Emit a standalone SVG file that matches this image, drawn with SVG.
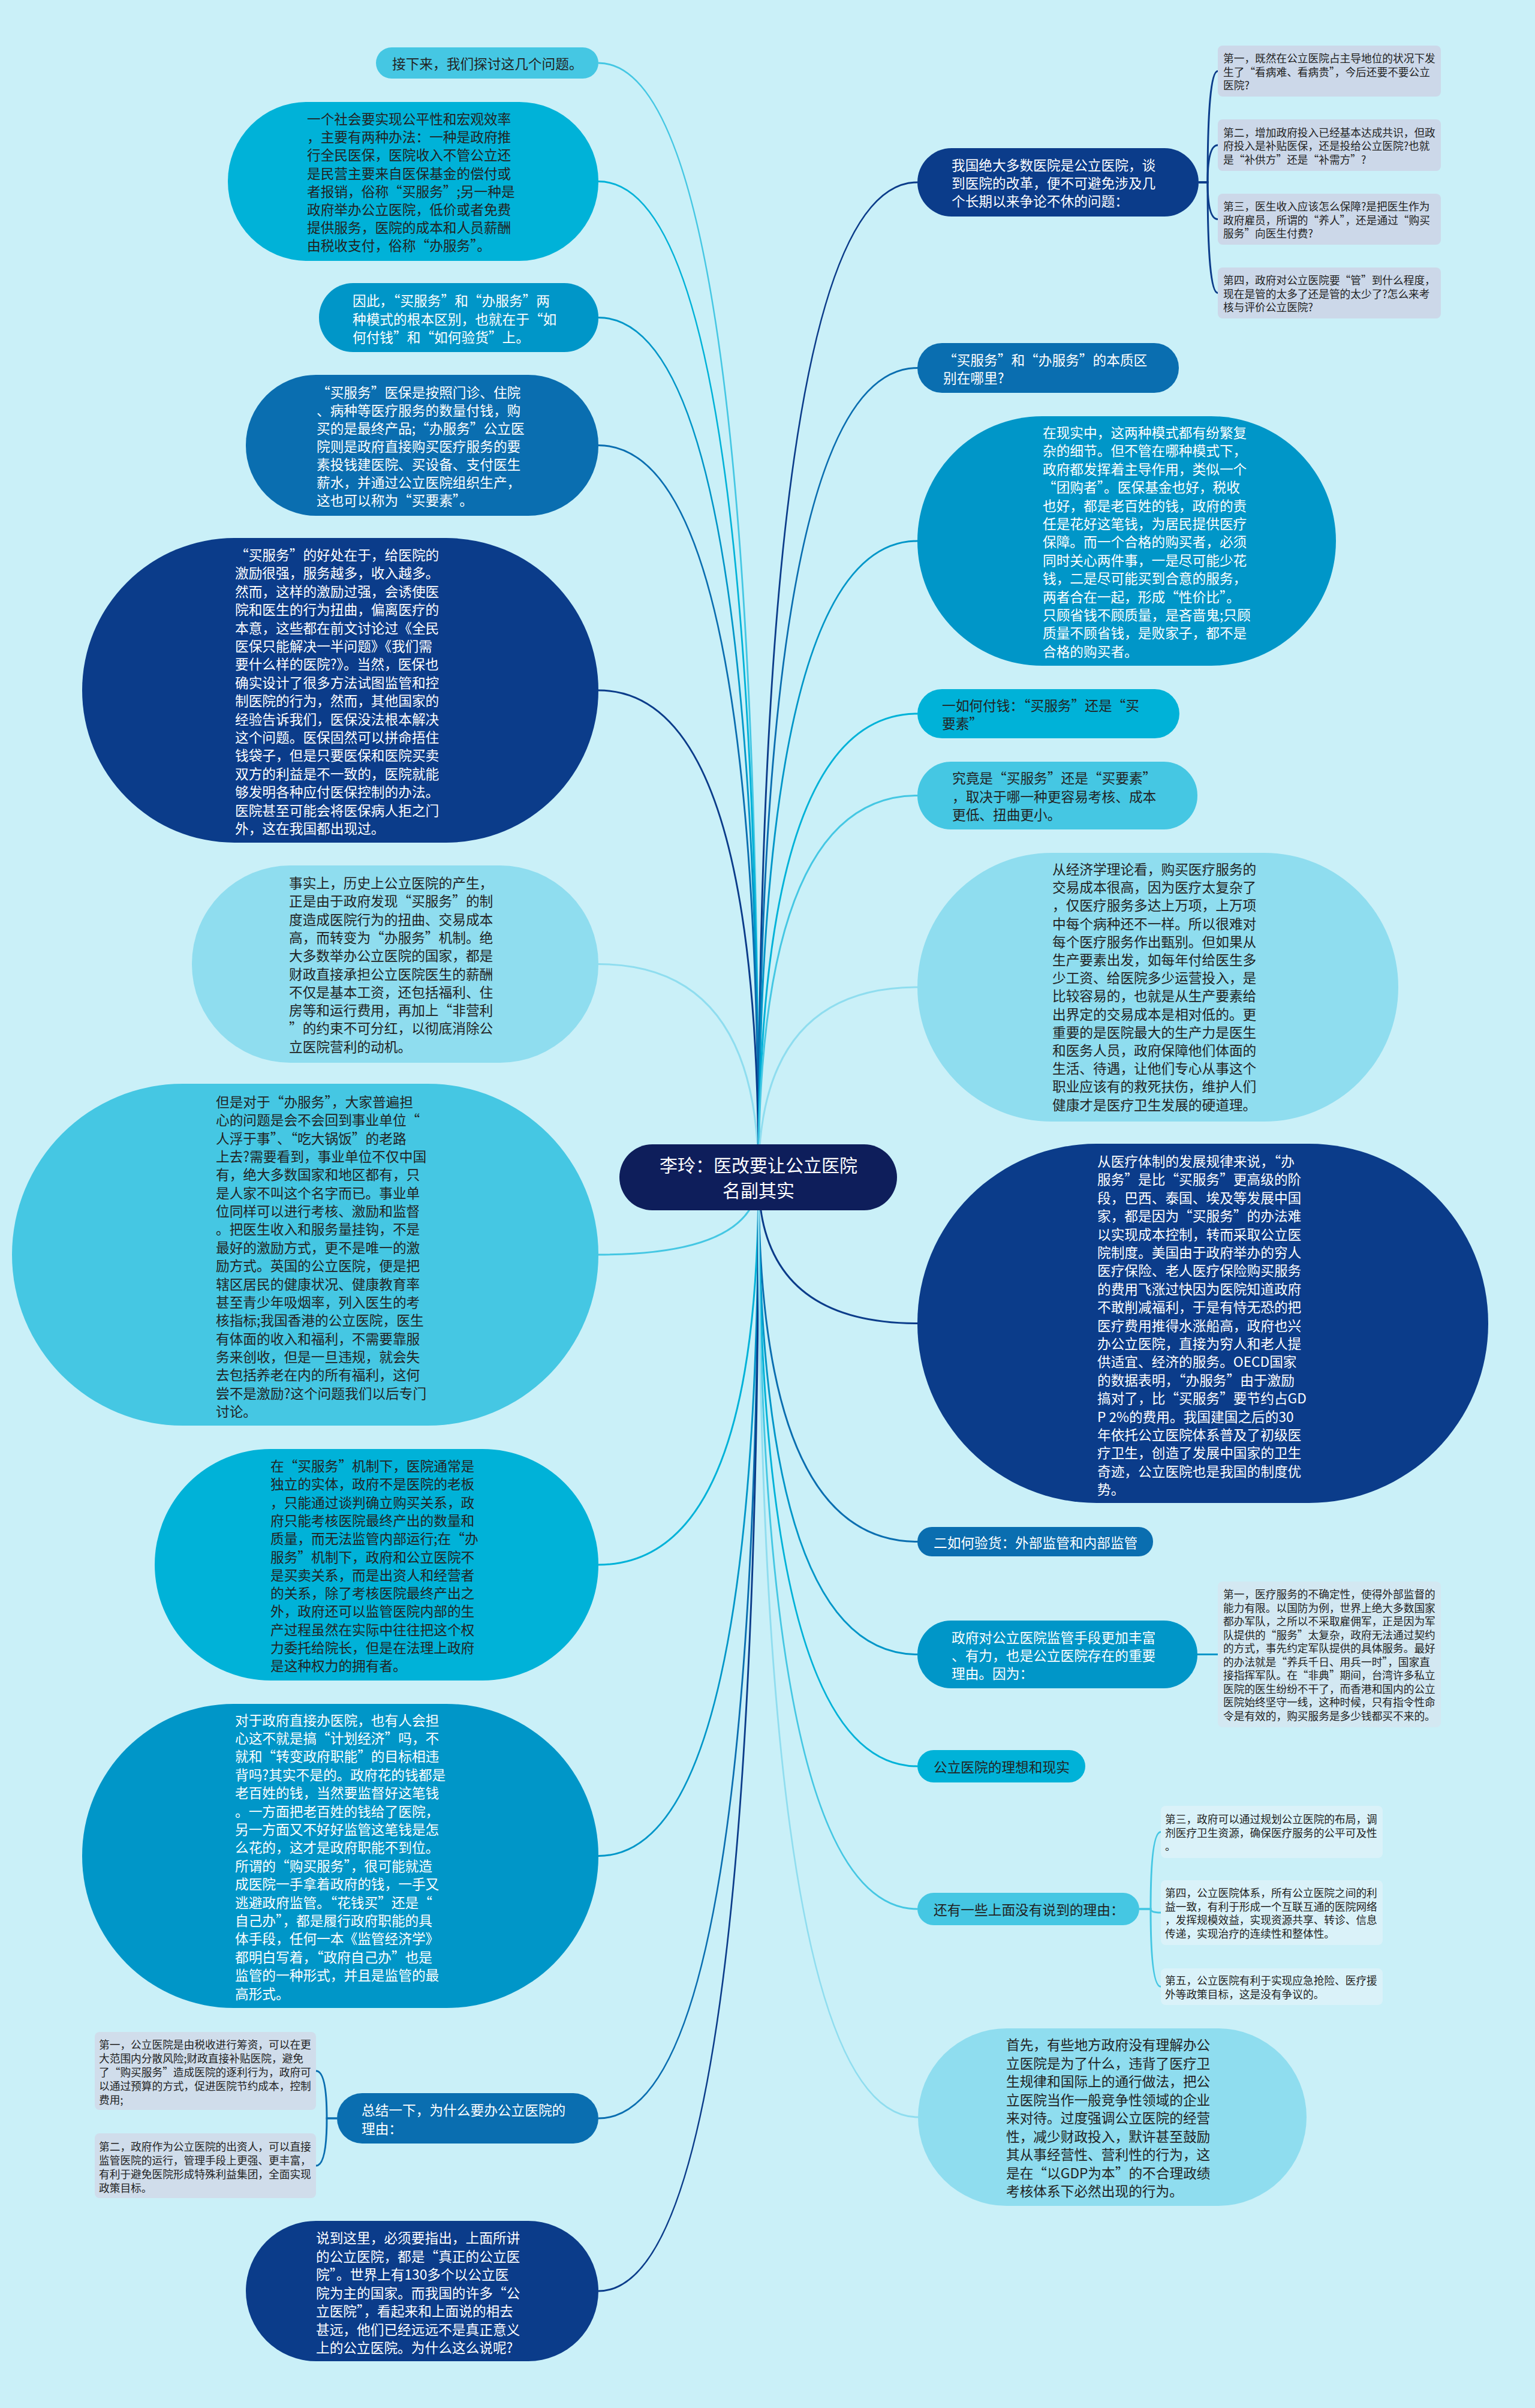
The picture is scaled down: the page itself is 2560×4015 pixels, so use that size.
<svg xmlns="http://www.w3.org/2000/svg" width="2560" height="4015" viewBox="0 0 2560 4015">
<style>
.t{font-family:'Noto Sans CJK SC','Noto Sans CJK JP','Noto Sans',sans-serif;font-size:22.7px;dominant-baseline:central}
.s{font-size:17.7px}
.w{fill:#ffffff}
.d{fill:#222222}
.navy{fill:#0E1E5B}
.dark{fill:#0B3C8A}
.blue{fill:#0A6EB0}
.mid{fill:#0096C8}
.cyan{fill:#00B2D8}
.light{fill:#45C7E3}
.pale{fill:#8FDDEF}
.lf1{fill:#CCD8E9}
.lf2{fill:#D0DDEB}
.lf3{fill:#D3E8F2}
.lf4{fill:#DAF2F9}
.c{fill:none;stroke-width:3}
.cd{stroke:#0B3C8A}.cb{stroke:#0A6EB0}.cm{stroke:#0096C8}.cc{stroke:#00B2D8}.cl{stroke:#45C7E3}.cp{stroke:#8FDDEF}
</style>
<rect x="0" y="0" width="2560" height="4015" fill="#CAF0F8"/>
<g id="connectors">
<path class="c cl" d="M1265 1963 Q1265 105 998 105"/>
<path class="c cc" d="M1265 1963 Q1265 302.5 998 302.5"/>
<path class="c cm" d="M1265 1963 Q1265 529.5 998 529.5"/>
<path class="c cb" d="M1265 1963 Q1265 742.5 998 742.5"/>
<path class="c cd" d="M1265 1963 Q1265 1151 998 1151"/>
<path class="c cp" d="M1265 1963 Q1265 1607.5 998 1607.5"/>
<path class="c cl" d="M1265 1963 Q1265 2092 998 2092"/>
<path class="c cc" d="M1265 1963 Q1265 2609 998 2609"/>
<path class="c cm" d="M1265 1963 Q1265 3094.5 998 3094.5"/>
<path class="c cb" d="M1265 1963 Q1265 3532 998 3532"/>
<path class="c cd" d="M1265 1963 Q1265 3820 998 3820"/>
<path class="c cd" d="M1265 1963 Q1265 304 1530 304"/>
<path class="c cb" d="M1265 1963 Q1265 613.5 1530 613.5"/>
<path class="c cm" d="M1265 1963 Q1265 902 1530 902"/>
<path class="c cc" d="M1265 1963 Q1265 1190 1530 1190"/>
<path class="c cl" d="M1265 1963 Q1265 1326.5 1530 1326.5"/>
<path class="c cp" d="M1265 1963 Q1265 1646 1530 1646"/>
<path class="c cd" d="M1265 1963 Q1265 2206.5 1530 2206.5"/>
<path class="c cb" d="M1265 1963 Q1265 2570.5 1530 2570.5"/>
<path class="c cm" d="M1265 1963 Q1265 2758.5 1530 2758.5"/>
<path class="c cc" d="M1265 1963 Q1265 2945 1530 2945"/>
<path class="c cl" d="M1265 1963 Q1265 3183 1530 3183"/>
<path class="c cp" d="M1265 1963 Q1265 3530 1531 3530"/>
<path class="c cd" d="M1999 304 L2014 304 Q2014 118.5 2031 118.5"/>
<path class="c cd" d="M1999 304 L2014 304 Q2014 242 2031 242"/>
<path class="c cd" d="M1999 304 L2014 304 Q2014 365.5 2031 365.5"/>
<path class="c cd" d="M1999 304 L2014 304 Q2014 488.5 2031 488.5"/>
<path class="c cb" d="M562 3532 L545 3532 Q545 3453 527 3453"/>
<path class="c cb" d="M562 3532 L545 3532 Q545 3611 527 3611"/>
<path class="c cm" d="M1997 2758.5 L2031 2758.5"/>
<path class="c cl" d="M1900 3183 L1919 3183 Q1919 3054.5 1936 3054.5"/>
<path class="c cl" d="M1900 3183 L1919 3183 Q1919 3189 1936 3189"/>
<path class="c cl" d="M1900 3183 L1919 3183 Q1919 3312.5 1936 3312.5"/>
</g>
<g id="center">
<rect class="navy" x="1033" y="1908" width="463" height="110" rx="55"/>
<text class="t w" style="font-size:30px" text-anchor="middle"><tspan x="1265" y="1941">李玲：医改要让公立医院</tspan><tspan x="1265" y="1983">名副其实</tspan></text>
</g>
<g id="n-l1">
<rect class="light" x="627" y="79" width="371" height="52" rx="26"/>
<text class="t d"><tspan x="654" y="105">接下来，我们探讨这几个问题。</tspan></text>
</g>
<g id="n-l2">
<rect class="cyan" x="380" y="170" width="618" height="265" rx="132"/>
<text class="t d"><tspan x="512" y="197">一个社会要实现公平性和宏观效率</tspan><tspan x="512" y="227.2">，主要有两种办法：一种是政府推</tspan><tspan x="512" y="257.4">行全民医保，医院收入不管公立还</tspan><tspan x="512" y="287.6">是民营主要来自医保基金的偿付或</tspan><tspan x="512" y="317.8">者报销，俗称“买服务”;另一种是</tspan><tspan x="512" y="348">政府举办公立医院，低价或者免费</tspan><tspan x="512" y="378.2">提供服务，医院的成本和人员薪酬</tspan><tspan x="512" y="408.4">由税收支付，俗称“办服务”。</tspan></text>
</g>
<g id="n-l3">
<rect class="mid" x="532" y="472" width="466" height="115" rx="57"/>
<text class="t w"><tspan x="588" y="500">因此，“买服务”和“办服务”两</tspan><tspan x="588" y="530.5">种模式的根本区别，也就在于“如</tspan><tspan x="588" y="561">何付钱”和“如何验货”上。</tspan></text>
</g>
<g id="n-l4">
<rect class="blue" x="410" y="625" width="588" height="235" rx="117"/>
<text class="t w"><tspan x="528" y="653">“买服务”医保是按照门诊、住院</tspan><tspan x="528" y="683">、病种等医疗服务的数量付钱，购</tspan><tspan x="528" y="713">买的是最终产品;“办服务”公立医</tspan><tspan x="528" y="743">院则是政府直接购买医疗服务的要</tspan><tspan x="528" y="773">素投钱建医院、买设备、支付医生</tspan><tspan x="528" y="803">薪水，并通过公立医院组织生产，</tspan><tspan x="528" y="833">这也可以称为“买要素”。</tspan></text>
</g>
<g id="n-l5">
<rect class="dark" x="137" y="897" width="861" height="508" rx="254"/>
<text class="t w"><tspan x="392" y="924">“买服务”的好处在于，给医院的</tspan><tspan x="392" y="954.4">激励很强，服务越多，收入越多。</tspan><tspan x="392" y="984.8">然而，这样的激励过强，会诱使医</tspan><tspan x="392" y="1015.2">院和医生的行为扭曲，偏离医疗的</tspan><tspan x="392" y="1045.6">本意，这些都在前文讨论过《全民</tspan><tspan x="392" y="1076">医保只能解决一半问题》《我们需</tspan><tspan x="392" y="1106.4">要什么样的医院?》。当然，医保也</tspan><tspan x="392" y="1136.8">确实设计了很多方法试图监管和控</tspan><tspan x="392" y="1167.2">制医院的行为，然而，其他国家的</tspan><tspan x="392" y="1197.6">经验告诉我们，医保没法根本解决</tspan><tspan x="392" y="1228">这个问题。医保固然可以拼命捂住</tspan><tspan x="392" y="1258.4">钱袋子，但是只要医保和医院买卖</tspan><tspan x="392" y="1288.8">双方的利益是不一致的，医院就能</tspan><tspan x="392" y="1319.2">够发明各种应付医保控制的办法。</tspan><tspan x="392" y="1349.6">医院甚至可能会将医保病人拒之门</tspan><tspan x="392" y="1380">外，这在我国都出现过。</tspan></text>
</g>
<g id="n-l6">
<rect class="pale" x="320" y="1443" width="678" height="329" rx="164"/>
<text class="t d"><tspan x="482" y="1471">事实上，历史上公立医院的产生，</tspan><tspan x="482" y="1501.3">正是由于政府发现“买服务”的制</tspan><tspan x="482" y="1531.6">度造成医院行为的扭曲、交易成本</tspan><tspan x="482" y="1561.9">高，而转变为“办服务”机制。绝</tspan><tspan x="482" y="1592.2">大多数举办公立医院的国家，都是</tspan><tspan x="482" y="1622.5">财政直接承担公立医院医生的薪酬</tspan><tspan x="482" y="1652.8">不仅是基本工资，还包括福利、住</tspan><tspan x="482" y="1683.1">房等和运行费用，再加上“非营利</tspan><tspan x="482" y="1713.4">”的约束不可分红，以彻底消除公</tspan><tspan x="482" y="1743.7">立医院营利的动机。</tspan></text>
</g>
<g id="n-l7">
<rect class="light" x="20" y="1807" width="978" height="570" rx="285"/>
<text class="t d"><tspan x="360" y="1836">但是对于“办服务”，大家普遍担</tspan><tspan x="360" y="1866.35">心的问题是会不会回到事业单位“</tspan><tspan x="360" y="1896.7">人浮于事”、“吃大锅饭”的老路</tspan><tspan x="360" y="1927.05">上去?需要看到，事业单位不仅中国</tspan><tspan x="360" y="1957.4">有，绝大多数国家和地区都有，只</tspan><tspan x="360" y="1987.75">是人家不叫这个名字而已。事业单</tspan><tspan x="360" y="2018.1">位同样可以进行考核、激励和监督</tspan><tspan x="360" y="2048.45">。把医生收入和服务量挂钩，不是</tspan><tspan x="360" y="2078.8">最好的激励方式，更不是唯一的激</tspan><tspan x="360" y="2109.15">励方式。英国的公立医院，便是把</tspan><tspan x="360" y="2139.5">辖区居民的健康状况、健康教育率</tspan><tspan x="360" y="2169.85">甚至青少年吸烟率，列入医生的考</tspan><tspan x="360" y="2200.2">核指标;我国香港的公立医院，医生</tspan><tspan x="360" y="2230.55">有体面的收入和福利，不需要靠服</tspan><tspan x="360" y="2260.9">务来创收，但是一旦违规，就会失</tspan><tspan x="360" y="2291.25">去包括养老在内的所有福利，这何</tspan><tspan x="360" y="2321.6">尝不是激励?这个问题我们以后专门</tspan><tspan x="360" y="2351.95">讨论。</tspan></text>
</g>
<g id="n-l8">
<rect class="cyan" x="258" y="2416" width="740" height="386" rx="193"/>
<text class="t d"><tspan x="451" y="2443">在“买服务”机制下，医院通常是</tspan><tspan x="451" y="2473.3">独立的实体，政府不是医院的老板</tspan><tspan x="451" y="2503.6">，只能通过谈判确立购买关系，政</tspan><tspan x="451" y="2533.9">府只能考核医院最终产出的数量和</tspan><tspan x="451" y="2564.2">质量，而无法监管内部运行;在“办</tspan><tspan x="451" y="2594.5">服务”机制下，政府和公立医院不</tspan><tspan x="451" y="2624.8">是买卖关系，而是出资人和经营者</tspan><tspan x="451" y="2655.1">的关系，除了考核医院最终产出之</tspan><tspan x="451" y="2685.4">外，政府还可以监管医院内部的生</tspan><tspan x="451" y="2715.7">产过程虽然在实际中往往把这个权</tspan><tspan x="451" y="2746">力委托给院长，但是在法理上政府</tspan><tspan x="451" y="2776.3">是这种权力的拥有者。</tspan></text>
</g>
<g id="n-l9">
<rect class="mid" x="137" y="2841" width="861" height="507" rx="253"/>
<text class="t w"><tspan x="392" y="2866.6">对于政府直接办医院，也有人会担</tspan><tspan x="392" y="2897">心这不就是搞“计划经济”吗，不</tspan><tspan x="392" y="2927.4">就和“转变政府职能”的目标相违</tspan><tspan x="392" y="2957.8">背吗?其实不是的。政府花的钱都是</tspan><tspan x="392" y="2988.2">老百姓的钱，当然要监督好这笔钱</tspan><tspan x="392" y="3018.6">。一方面把老百姓的钱给了医院，</tspan><tspan x="392" y="3049">另一方面又不好好监管这笔钱是怎</tspan><tspan x="392" y="3079.4">么花的，这才是政府职能不到位。</tspan><tspan x="392" y="3109.8">所谓的“购买服务”，很可能就造</tspan><tspan x="392" y="3140.2">成医院一手拿着政府的钱，一手又</tspan><tspan x="392" y="3170.6">逃避政府监管。“花钱买”还是“</tspan><tspan x="392" y="3201">自己办”，都是履行政府职能的具</tspan><tspan x="392" y="3231.4">体手段，任何一本《监管经济学》</tspan><tspan x="392" y="3261.8">都明白写着，“政府自己办”也是</tspan><tspan x="392" y="3292.2">监管的一种形式，并且是监管的最</tspan><tspan x="392" y="3322.6">高形式。</tspan></text>
</g>
<g id="n-l10">
<rect class="blue" x="562" y="3490" width="436" height="84" rx="42"/>
<text class="t w"><tspan x="603" y="3517">总结一下，为什么要办公立医院的</tspan><tspan x="603" y="3548">理由：</tspan></text>
</g>
<g id="n-l10a">
<rect class="lf2" x="158" y="3388" width="369" height="130" rx="8"/>
<text class="t s d"><tspan x="165" y="3408">第一，公立医院是由税收进行筹资，可以在更</tspan><tspan x="165" y="3431">大范围内分散风险;财政直接补贴医院，避免</tspan><tspan x="165" y="3454">了“购买服务”造成医院的逐利行为，政府可</tspan><tspan x="165" y="3477">以通过预算的方式，促进医院节约成本，控制</tspan><tspan x="165" y="3500">费用;</tspan></text>
</g>
<g id="n-l10b">
<rect class="lf2" x="158" y="3557" width="369" height="108" rx="8"/>
<text class="t s d"><tspan x="165" y="3578">第二，政府作为公立医院的出资人，可以直接</tspan><tspan x="165" y="3601">监管医院的运行，管理手段上更强、更丰富，</tspan><tspan x="165" y="3624">有利于避免医院形成特殊利益集团，全面实现</tspan><tspan x="165" y="3647">政策目标。</tspan></text>
</g>
<g id="n-l11">
<rect class="dark" x="410" y="3703" width="588" height="234" rx="117"/>
<text class="t w"><tspan x="527" y="3730">说到这里，必须要指出，上面所讲</tspan><tspan x="527" y="3760.5">的公立医院，都是“真正的公立医</tspan><tspan x="527" y="3791">院”。世界上有130多个以公立医</tspan><tspan x="527" y="3821.5">院为主的国家。而我国的许多“公</tspan><tspan x="527" y="3852">立医院”，看起来和上面说的相去</tspan><tspan x="527" y="3882.5">甚远，他们已经远远不是真正意义</tspan><tspan x="527" y="3913">上的公立医院。为什么这么说呢?</tspan></text>
</g>
<g id="n-r1">
<rect class="dark" x="1530" y="247" width="469" height="114" rx="57"/>
<text class="t w"><tspan x="1587" y="274">我国绝大多数医院是公立医院，谈</tspan><tspan x="1587" y="304">到医院的改革，便不可避免涉及几</tspan><tspan x="1587" y="334">个长期以来争论不休的问题：</tspan></text>
</g>
<g id="n-r1a">
<rect class="lf1" x="2031" y="76" width="372" height="85" rx="8"/>
<text class="t s d"><tspan x="2040" y="96">第一，既然在公立医院占主导地位的状况下发</tspan><tspan x="2040" y="118.5">生了“看病难、看病贵”，今后还要不要公立</tspan><tspan x="2040" y="141">医院?</tspan></text>
</g>
<g id="n-r1b">
<rect class="lf1" x="2031" y="199" width="372" height="86" rx="8"/>
<text class="t s d"><tspan x="2040" y="219.5">第二，增加政府投入已经基本达成共识，但政</tspan><tspan x="2040" y="242">府投入是补贴医保，还是投给公立医院?也就</tspan><tspan x="2040" y="264.5">是“补供方”还是“补需方”?</tspan></text>
</g>
<g id="n-r1c">
<rect class="lf1" x="2031" y="323" width="372" height="85" rx="8"/>
<text class="t s d"><tspan x="2040" y="343">第三，医生收入应该怎么保障?是把医生作为</tspan><tspan x="2040" y="365.5">政府雇员，所谓的“养人”，还是通过“购买</tspan><tspan x="2040" y="388">服务”向医生付费?</tspan></text>
</g>
<g id="n-r1d">
<rect class="lf1" x="2031" y="446" width="372" height="85" rx="8"/>
<text class="t s d"><tspan x="2040" y="466">第四，政府对公立医院要“管”到什么程度，</tspan><tspan x="2040" y="488.5">现在是管的太多了还是管的太少了?怎么来考</tspan><tspan x="2040" y="511">核与评价公立医院?</tspan></text>
</g>
<g id="n-r2">
<rect class="blue" x="1530" y="572" width="436" height="83" rx="41"/>
<text class="t w"><tspan x="1573" y="598.5">“买服务”和“办服务”的本质区</tspan><tspan x="1573" y="628.5">别在哪里?</tspan></text>
</g>
<g id="n-r3">
<rect class="mid" x="1530" y="694" width="698" height="416" rx="208"/>
<text class="t w"><tspan x="1739" y="720">在现实中，这两种模式都有纷繁复</tspan><tspan x="1739" y="750.4">杂的细节。但不管在哪种模式下，</tspan><tspan x="1739" y="780.8">政府都发挥着主导作用，类似一个</tspan><tspan x="1739" y="811.2">“团购者”。医保基金也好，税收</tspan><tspan x="1739" y="841.6">也好，都是老百姓的钱，政府的责</tspan><tspan x="1739" y="872">任是花好这笔钱，为居民提供医疗</tspan><tspan x="1739" y="902.4">保障。而一个合格的购买者，必须</tspan><tspan x="1739" y="932.8">同时关心两件事，一是尽可能少花</tspan><tspan x="1739" y="963.2">钱，二是尽可能买到合意的服务，</tspan><tspan x="1739" y="993.6">两者合在一起，形成“性价比”。</tspan><tspan x="1739" y="1024">只顾省钱不顾质量，是吝啬鬼;只顾</tspan><tspan x="1739" y="1054.4">质量不顾省钱，是败家子，都不是</tspan><tspan x="1739" y="1084.8">合格的购买者。</tspan></text>
</g>
<g id="n-r4">
<rect class="cyan" x="1530" y="1149" width="437" height="82" rx="41"/>
<text class="t d"><tspan x="1571" y="1175">一如何付钱：“买服务”还是“买</tspan><tspan x="1571" y="1205">要素”</tspan></text>
</g>
<g id="n-r5">
<rect class="light" x="1530" y="1270" width="467" height="113" rx="56"/>
<text class="t d"><tspan x="1588" y="1296">究竟是“买服务”还是“买要素”</tspan><tspan x="1588" y="1326.5">，取决于哪一种更容易考核、成本</tspan><tspan x="1588" y="1357">更低、扭曲更小。</tspan></text>
</g>
<g id="n-r6">
<rect class="pale" x="1530" y="1422" width="802" height="448" rx="224"/>
<text class="t d"><tspan x="1755" y="1448">从经济学理论看，购买医疗服务的</tspan><tspan x="1755" y="1478.2">交易成本很高，因为医疗太复杂了</tspan><tspan x="1755" y="1508.4">，仅医疗服务多达上万项，上万项</tspan><tspan x="1755" y="1538.6">中每个病种还不一样。所以很难对</tspan><tspan x="1755" y="1568.8">每个医疗服务作出甄别。但如果从</tspan><tspan x="1755" y="1599">生产要素出发，如每年付给医生多</tspan><tspan x="1755" y="1629.2">少工资、给医院多少运营投入，是</tspan><tspan x="1755" y="1659.4">比较容易的，也就是从生产要素给</tspan><tspan x="1755" y="1689.6">出界定的交易成本是相对低的。更</tspan><tspan x="1755" y="1719.8">重要的是医院最大的生产力是医生</tspan><tspan x="1755" y="1750">和医务人员，政府保障他们体面的</tspan><tspan x="1755" y="1780.2">生活、待遇，让他们专心从事这个</tspan><tspan x="1755" y="1810.4">职业应该有的救死扶伤，维护人们</tspan><tspan x="1755" y="1840.6">健康才是医疗卫生发展的硬道理。</tspan></text>
</g>
<g id="n-r7">
<rect class="dark" x="1530" y="1907" width="952" height="599" rx="299"/>
<text class="t w"><tspan x="1830" y="1935">从医疗体制的发展规律来说，“办</tspan><tspan x="1830" y="1965.4">服务”是比“买服务”更高级的阶</tspan><tspan x="1830" y="1995.8">段，巴西、泰国、埃及等发展中国</tspan><tspan x="1830" y="2026.2">家，都是因为“买服务”的办法难</tspan><tspan x="1830" y="2056.6">以实现成本控制，转而采取公立医</tspan><tspan x="1830" y="2087">院制度。美国由于政府举办的穷人</tspan><tspan x="1830" y="2117.4">医疗保险、老人医疗保险购买服务</tspan><tspan x="1830" y="2147.8">的费用飞涨过快因为医院知道政府</tspan><tspan x="1830" y="2178.2">不敢削减福利，于是有恃无恐的把</tspan><tspan x="1830" y="2208.6">医疗费用推得水涨船高，政府也兴</tspan><tspan x="1830" y="2239">办公立医院，直接为穷人和老人提</tspan><tspan x="1830" y="2269.4">供适宜、经济的服务。OECD国家</tspan><tspan x="1830" y="2299.8">的数据表明，“办服务”由于激励</tspan><tspan x="1830" y="2330.2">搞对了，比“买服务”要节约占GD</tspan><tspan x="1830" y="2360.6">P 2%的费用。我国建国之后的30</tspan><tspan x="1830" y="2391">年依托公立医院体系普及了初级医</tspan><tspan x="1830" y="2421.4">疗卫生，创造了发展中国家的卫生</tspan><tspan x="1830" y="2451.8">奇迹，公立医院也是我国的制度优</tspan><tspan x="1830" y="2482.2">势。</tspan></text>
</g>
<g id="n-r8">
<rect class="blue" x="1530" y="2546" width="393" height="49" rx="24"/>
<text class="t w"><tspan x="1557" y="2570.5">二如何验货：外部监管和内部监管</tspan></text>
</g>
<g id="n-r9">
<rect class="mid" x="1530" y="2702" width="467" height="113" rx="56"/>
<text class="t w"><tspan x="1587" y="2728.5">政府对公立医院监管手段更加丰富</tspan><tspan x="1587" y="2758.5">、有力，也是公立医院存在的重要</tspan><tspan x="1587" y="2788.5">理由。因为：</tspan></text>
</g>
<g id="n-r9a">
<rect class="lf3" x="2031" y="2637" width="372" height="243" rx="8"/>
<text class="t s d"><tspan x="2040" y="2657.25">第一，医疗服务的不确定性，使得外部监督的</tspan><tspan x="2040" y="2679.75">能力有限。以国防为例，世界上绝大多数国家</tspan><tspan x="2040" y="2702.25">都办军队，之所以不采取雇佣军，正是因为军</tspan><tspan x="2040" y="2724.75">队提供的“服务”太复杂，政府无法通过契约</tspan><tspan x="2040" y="2747.25">的方式，事先约定军队提供的具体服务。最好</tspan><tspan x="2040" y="2769.75">的办法就是“养兵千日、用兵一时”，国家直</tspan><tspan x="2040" y="2792.25">接指挥军队。在“非典”期间，台湾许多私立</tspan><tspan x="2040" y="2814.75">医院的医生纷纷不干了，而香港和国内的公立</tspan><tspan x="2040" y="2837.25">医院始终坚守一线，这种时候，只有指令性命</tspan><tspan x="2040" y="2859.75">令是有效的，购买服务是多少钱都买不来的。</tspan></text>
</g>
<g id="n-r10">
<rect class="cyan" x="1530" y="2918" width="280" height="54" rx="27"/>
<text class="t d"><tspan x="1557" y="2945">公立医院的理想和现实</tspan></text>
</g>
<g id="n-r11">
<rect class="light" x="1530" y="3156" width="370" height="54" rx="27"/>
<text class="t d"><tspan x="1557" y="3183">还有一些上面没有说到的理由：</tspan></text>
</g>
<g id="n-r11a">
<rect class="lf4" x="1936" y="3011" width="370" height="87" rx="8"/>
<text class="t s d"><tspan x="1943" y="3032">第三，政府可以通过规划公立医院的布局，调</tspan><tspan x="1943" y="3054.5">剂医疗卫生资源，确保医疗服务的公平可及性</tspan><tspan x="1943" y="3077">。</tspan></text>
</g>
<g id="n-r11b">
<rect class="lf4" x="1936" y="3135" width="370" height="108" rx="8"/>
<text class="t s d"><tspan x="1943" y="3155.25">第四，公立医院体系，所有公立医院之间的利</tspan><tspan x="1943" y="3177.75">益一致，有利于形成一个互联互通的医院网络</tspan><tspan x="1943" y="3200.25">，发挥规模效益，实现资源共享、转诊、信息</tspan><tspan x="1943" y="3222.75">传递，实现治疗的连续性和整体性。</tspan></text>
</g>
<g id="n-r11c">
<rect class="lf4" x="1936" y="3282" width="370" height="61" rx="8"/>
<text class="t s d"><tspan x="1943" y="3301.25">第五，公立医院有利于实现应急抢险、医疗援</tspan><tspan x="1943" y="3323.75">外等政策目标，这是没有争议的。</tspan></text>
</g>
<g id="n-r12">
<rect class="pale" x="1531" y="3382" width="648" height="296" rx="148"/>
<text class="t d"><tspan x="1678" y="3408">首先，有些地方政府没有理解办公</tspan><tspan x="1678" y="3438.5">立医院是为了什么，违背了医疗卫</tspan><tspan x="1678" y="3469">生规律和国际上的通行做法，把公</tspan><tspan x="1678" y="3499.5">立医院当作一般竞争性领域的企业</tspan><tspan x="1678" y="3530">来对待。过度强调公立医院的经营</tspan><tspan x="1678" y="3560.5">性，减少财政投入，默许甚至鼓励</tspan><tspan x="1678" y="3591">其从事经营性、营利性的行为，这</tspan><tspan x="1678" y="3621.5">是在“以GDP为本”的不合理政绩</tspan><tspan x="1678" y="3652">考核体系下必然出现的行为。</tspan></text>
</g>
</svg>
